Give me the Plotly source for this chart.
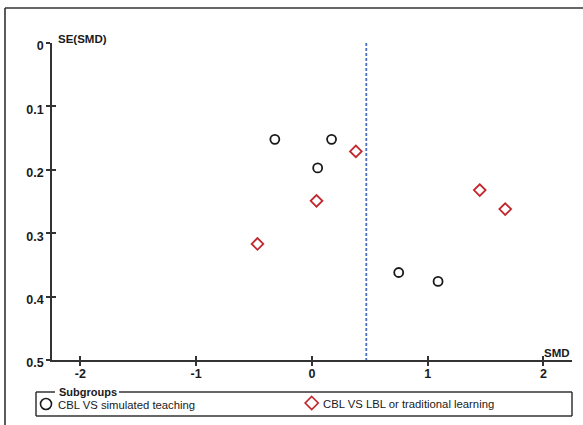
import plotly.graph_objects as go

# Funnel plot data: standardised mean difference vs its standard error
sim_smd = [-0.32, 0.17, 0.05, 0.75, 1.09]
sim_se = [0.152, 0.152, 0.197, 0.362, 0.376]
lbl_smd = [0.38, 1.45, 1.67, -0.47, 0.04]
lbl_se = [0.171, 0.232, 0.262, 0.317, 0.249]
pooled_smd = 0.47

x_ticks = [-2, -1, 0, 1, 2]
y_ticks = [0, 0.1, 0.2, 0.3, 0.4, 0.5]
x_range = [-2.245, 2.247]
y_range = [0.5, 0.0]

group_names = ["CBL VS simulated teaching", "CBL VS LBL or traditional learning"]

W, H = 583, 425
PL, PR, PT, PB = 52, 572, 43, 360
INK = "#1a1a1a"
RED = "#c1272d"
BLUE = "#4a6fc4"
FONT = "Liberation Sans, Arial, sans-serif"


def px(x):
    return (x - PL) / (PR - PL)


def py(y):
    return (PB - y) / (PB - PT)


fig = go.Figure()
fig.add_trace(go.Scatter(
    x=sim_smd, y=sim_se, mode="markers", name=group_names[0],
    marker=dict(symbol="circle-open", size=9, color=INK, line=dict(width=1.8)),
    showlegend=False,
))
fig.add_trace(go.Scatter(
    x=lbl_smd, y=lbl_se, mode="markers", name=group_names[1],
    marker=dict(symbol="diamond-open", size=9, color=RED, line=dict(width=1.8)),
    showlegend=False,
))
# empty trace so the overlay axes (inner half of the crossing ticks) are drawn
fig.add_trace(go.Scatter(x=[], y=[], xaxis="x2", yaxis="y2", showlegend=False))

shapes = []
# pooled effect line
shapes.append(dict(type="line", xref="x", yref="y", x0=pooled_smd, x1=pooled_smd,
                   y0=y_range[1], y1=y_range[0],
                   line=dict(color=BLUE, width=1.8, dash="3px,2px")))
# outer frame (top and left edges)
shapes.append(dict(type="line", xref="paper", yref="paper", x0=px(5), x1=px(583),
                   y0=py(8), y1=py(8), line=dict(color="#333", width=1.6)))
shapes.append(dict(type="line", xref="paper", yref="paper", x0=px(5), x1=px(5),
                   y0=py(8), y1=py(425), line=dict(color="#333", width=1.6)))
# legend frame with a gap for the title
LB_L, LB_R, LB_T, LB_B = 36, 572, 392, 416
frame = dict(color="#333", width=1.5)
for (xa, ya, xb, yb) in [
    (LB_L, LB_T, 55, LB_T), (119, LB_T, LB_R, LB_T),
    (LB_R, LB_T, LB_R, LB_B), (LB_L, LB_B, LB_R, LB_B), (LB_L, LB_T, LB_L, LB_B),
]:
    shapes.append(dict(type="line", xref="paper", yref="paper",
                       x0=px(xa), x1=px(xb), y0=py(ya), y1=py(yb), line=frame))
# legend symbols
shapes.append(dict(type="circle", xref="paper", yref="paper",
                   xsizemode="pixel", ysizemode="pixel",
                   xanchor=px(46), yanchor=py(404),
                   x0=-5.5, x1=5.5, y0=-5.5, y1=5.5,
                   line=dict(color=INK, width=1.6)))
shapes.append(dict(type="path", xref="paper", yref="paper",
                   xsizemode="pixel", ysizemode="pixel",
                   xanchor=px(311.7), yanchor=py(403),
                   path="M 0,6.5 L 6.5,0 L 0,-6.5 L -6.5,0 Z",
                   line=dict(color=RED, width=1.7)))

annotations = [
    dict(text="SE(SMD)", x=px(56), y=py(39), xref="paper", yref="paper",
         xanchor="left", yanchor="middle", showarrow=False,
         font=dict(family=FONT, size=11.5, color=INK, weight="bold")),
    dict(text="SMD", x=px(572), y=py(353), xref="paper", yref="paper",
         xanchor="right", yanchor="middle", showarrow=False,
         font=dict(family=FONT, size=11.5, color=INK, weight="bold")),
    dict(text="Subgroups", x=px(57), y=py(392), xref="paper", yref="paper",
         xanchor="left", yanchor="middle", showarrow=False,
         font=dict(family=FONT, size=11, color=INK, weight="bold")),
    dict(text=group_names[0], x=px(56), y=py(405), xref="paper", yref="paper",
         xanchor="left", yanchor="middle", showarrow=False,
         font=dict(family=FONT, size=11.3, color=INK)),
    dict(text=group_names[1], x=px(321), y=py(404), xref="paper", yref="paper",
         xanchor="left", yanchor="middle", showarrow=False,
         font=dict(family=FONT, size=11.3, color=INK)),
]

tickfont = dict(family=FONT, size=12.5, color=INK, weight="bold")
axis_common = dict(showgrid=False, zeroline=False, showline=True,
                   linecolor="#333", linewidth=1.6, ticks="outside", ticklen=4,
                   tickwidth=1.5, tickcolor="#333", tickfont=tickfont)

fig.update_layout(
    width=W, height=H,
    margin=dict(l=PL, r=W - PR, t=PT, b=H - PB, pad=0),
    paper_bgcolor="white", plot_bgcolor="white",
    showlegend=False,
    xaxis=dict(range=x_range, tickvals=x_ticks, ticktext=[str(v) for v in x_ticks],
               anchor="y", ticklabelstandoff=-3, **axis_common),
    yaxis=dict(range=y_range, tickvals=y_ticks, ticktext=[f"{v:g}" for v in y_ticks],
               anchor="x", ticklabelshift=-3, **axis_common),
    xaxis2=dict(range=x_range, tickvals=x_ticks, overlaying="x", anchor="y",
                side="bottom", showgrid=False, zeroline=False, showline=False,
                ticks="inside", ticklen=4, tickwidth=1.5, tickcolor="#333",
                showticklabels=False),
    yaxis2=dict(range=y_range, tickvals=y_ticks, overlaying="y", anchor="x",
                side="left", showgrid=False, zeroline=False, showline=False,
                ticks="inside", ticklen=4, tickwidth=1.5, tickcolor="#333",
                showticklabels=False),
    shapes=shapes,
    annotations=annotations,
)

fig.write_html("out.html")
